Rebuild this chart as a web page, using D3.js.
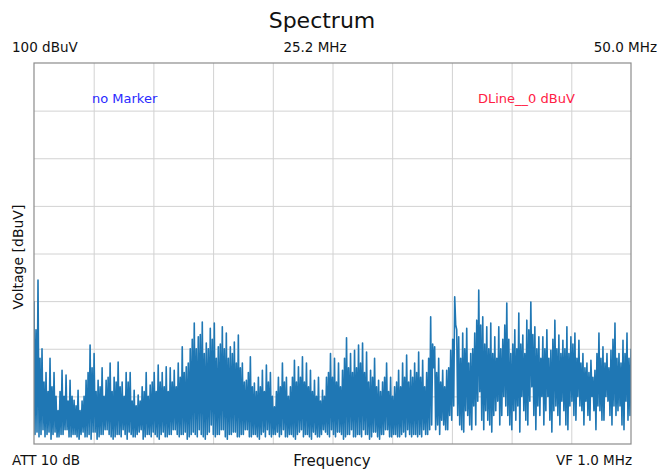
<!DOCTYPE html>
<html>
<head>
<meta charset="utf-8">
<script src="https://cdn.jsdelivr.net/npm/d3@7"></script>
<style>
  html, body { margin: 0; padding: 0; background: #fff; }
  text { font-family: "DejaVu Sans", sans-serif; }
</style>
</head>
<body>
<div id="chart"></div>
<script>
// sweep settings
const freqStart = 0.4;   // MHz
const freqStop = 50.0;   // MHz
const levelMin = 20;     // dBuV
const levelMax = 100;    // dBuV
const freqDivisions = 10;
const levelDivisions = 8;

// corner labels
const refLevelLabel = '100 dBuV';
const centerFreqLabel = '25.2 MHz';
const stopFreqLabel = '50.0 MHz';
const attLabel = 'ATT 10 dB';
const vfLabel = 'VF 1.0 MHz';
const markerLabel = 'no Marker';
const dlineLabel = 'DLine__0 dBuV';

// peak level of each sweep bin (dBuV)
const peakLevels = [
  50, 44, 54.4, 38, 40, 33, 35, 31, 38, 32,
  35, 30, 27, 31, 35.5, 30, 34.5, 29, 33.4, 30,
  29.2, 28, 31.3, 27, 29, 30, 33.4, 35, 40.8, 36,
  39, 31, 33.4, 32, 36, 30, 33.4, 34, 37, 31,
  34, 33, 37.2, 32, 33, 30, 35, 33, 35, 29,
  31.3, 28, 30.3, 29, 32, 31, 35, 30, 32.4, 33,
  35, 31, 36.6, 33, 35, 32, 36.2, 31, 36, 33,
  35.5, 32, 37, 34, 40.4, 35, 36.2, 37, 40, 42,
  45.4, 40, 42.5, 43, 45.6, 39, 41.2, 40, 44.3, 42,
  45.4, 38, 40.4, 41, 44.6, 40, 43.3, 38, 40.4, 39,
  41.4, 37, 42.9, 36, 37, 33, 33.4, 35, 38.3, 32,
  32.8, 31, 34, 32, 35.5, 31, 36.6, 33, 35, 30,
  27.8, 31, 34, 32, 37, 33, 34, 30, 32, 34,
  37.6, 33, 36.2, 34, 38.3, 33, 37, 32, 35.5, 31,
  33.4, 30, 34, 29, 31.3, 30, 34, 35, 39, 34,
  38, 33, 37, 32, 35.5, 38, 42.3, 36, 39, 35,
  39.7, 36, 40.8, 37, 41.2, 35, 39.3, 33, 35.5, 34,
  38, 32, 33.4, 31, 33, 34, 37, 31, 34, 30,
  32, 33, 35.5, 32, 37, 34, 38.7, 33, 35.5, 34,
  37, 35, 39.3, 34, 37.6, 32, 35, 38, 46.7, 41,
  40.4, 35, 38, 33, 35.5, 32, 35.5, 36, 39.7, 42,
  50.9, 44, 42.5, 38, 43.3, 40, 44.3, 37, 39, 40,
  43.3, 46, 52.3, 45, 46.7, 41, 44.6, 40, 45.4, 39,
  42.5, 38, 44.6, 40, 42, 45, 49.6, 42, 39, 41,
  44, 40, 47.5, 41, 42.9, 39, 46, 44, 49.8, 43,
  44.6, 40, 42.5, 38, 42.5, 40, 44, 38, 39.7, 42,
  46, 40, 42.9, 39, 41.8, 40, 44.6, 39, 42.5, 41,
  43.3, 38, 41.8, 37, 39, 36, 37, 35, 37.6, 34,
  35.5, 39, 43.3, 38, 40.4, 37, 39, 36, 39.7, 42,
  45.4, 38, 39, 37, 41.8, 39, 43.3, 38, 40
];

// floor level of each sweep bin (dBuV)
const floorLevels = [
  22, 22.5, 21.5, 22, 23, 21.5, 22, 22.5, 21, 22,
  22.5, 21.5, 21.5, 22, 22, 23, 23, 21.5, 21.5, 22,
  22, 21.5, 21, 22, 22.5, 21.5, 21.5, 22, 21, 22.5,
  22.5, 21, 21.5, 22, 22, 23, 23, 22, 21.5, 21,
  21.5, 22, 22, 21.5, 23, 22, 21, 22.5, 22, 21.5,
  21.5, 22, 22.5, 23, 21, 21.5, 22, 22, 21.5, 22.5,
  22, 21.5, 21, 22, 22.5, 21.5, 21.5, 22, 22, 23,
  23, 22, 21.5, 22, 22, 22.5, 21, 21.5, 22, 22.5,
  22, 21.5, 23, 22, 21.5, 21, 22, 22.5, 24, 22,
  21.5, 22, 22, 23, 23, 21.5, 21, 22, 22, 22.5,
  22.5, 21.5, 21.5, 22, 22, 23, 23, 21.5, 21.5, 22,
  22, 21.5, 21, 22, 22.5, 21.5, 23, 22, 21.5, 22,
  22, 22.5, 21.5, 22, 23, 21.5, 21.5, 22, 22, 21.5,
  21, 22, 22.5, 23, 21.5, 22, 22, 21.5, 21, 22.5,
  22, 21.5, 21.5, 22, 23, 22.5, 22, 21.5, 23, 22,
  21.5, 22.5, 22.5, 22, 21, 21.5, 22, 22, 23, 21.5,
  21.5, 22, 22, 21.5, 23, 22, 22, 21, 21.5, 22.5,
  22.5, 21.5, 21, 22, 22, 23, 23, 21.5, 21.5, 22,
  22, 21.5, 21.5, 22, 22.5, 21.5, 23, 22, 21.5, 22,
  22, 21.5, 22, 21.5, 23, 22, 22, 23, 24, 36,
  23, 24, 22, 25, 24, 23, 23, 26, 25, 28,
  45, 26, 24, 23, 22.5, 27, 26, 24, 23, 28,
  24, 29, 31, 25, 23, 27, 25, 24, 22.5, 26,
  27, 29, 24, 26, 30, 28, 26, 24, 23, 27,
  25, 28, 22.5, 30, 27, 25, 24, 29, 32, 26,
  23, 28, 26, 30, 24, 27, 30, 25, 22.5, 27,
  28, 26, 24, 29, 27, 24, 23, 28, 29, 26,
  25, 30, 28, 27, 24, 29, 26, 25, 30, 27,
  23, 28, 27, 25, 25, 30, 29, 26, 24, 28,
  26, 27, 28, 24, 23, 29, 25, 26, 27
];

const width = 661;
const height = 469;
const margin = { top: 63, right: 30, bottom: 25, left: 34 };
const w = width - margin.left - margin.right;
const h = height - margin.top - margin.bottom;

const svg = d3.select('#chart')
  .append('svg')
  .attr('width', width)
  .attr('height', height);

const g = svg.append('g')
  .attr('transform', `translate(${margin.left},${margin.top})`);

const x = d3.scaleLinear().domain([freqStart, freqStop]).range([0, w]);
const y = d3.scaleLinear().domain([levelMin, levelMax]).range([h, 0]);

// grid
const freqStep = (freqStop - freqStart) / freqDivisions;
const levelStep = (levelMax - levelMin) / levelDivisions;
const xGrid = d3.range(1, freqDivisions).map(k => freqStart + k * freqStep);
const yGrid = d3.range(1, levelDivisions).map(k => levelMin + k * levelStep);

g.append('g')
  .call(d3.axisBottom(x).tickValues(xGrid).tickSize(h).tickFormat(''))
  .call(a => a.select('.domain').remove())
  .selectAll('line')
  .attr('stroke', '#d2d2d2');

g.append('g')
  .call(d3.axisLeft(y).tickValues(yGrid).tickSize(-w).tickFormat(''))
  .call(a => a.select('.domain').remove())
  .selectAll('line')
  .attr('stroke', '#d2d2d2');

// trace: each bin drawn from its peak down to its floor
const n = peakLevels.length;
const binWidth = (freqStop - freqStart) / (n - 1);
const trace = [];
peakLevels.forEach((p, i) => {
  const f = freqStart + i * binWidth;
  trace.push([x(f), y(p)]);
  if (i < n - 1) trace.push([x(f + binWidth / 2), y(floorLevels[i])]);
});

g.append('clipPath')
  .attr('id', 'plot-clip')
  .append('rect')
  .attr('width', w)
  .attr('height', h);

g.append('path')
  .datum(trace)
  .attr('clip-path', 'url(#plot-clip)')
  .attr('fill', 'none')
  .attr('stroke', '#1f77b4')
  .attr('stroke-width', 1.6)
  .attr('stroke-linejoin', 'round')
  .attr('d', d3.line());

// frame
g.append('rect')
  .attr('width', w)
  .attr('height', h)
  .attr('fill', 'none')
  .attr('stroke', '#8c8c8c')
  .attr('stroke-width', 1.2);

// in-plot annotations
g.append('text')
  .attr('x', 58)
  .attr('y', 40)
  .attr('fill', '#2a2aff')
  .attr('font-size', 13)
  .text(markerLabel);

g.append('text')
  .attr('x', 444)
  .attr('y', 40)
  .attr('fill', '#ff2044')
  .attr('font-size', 13)
  .text(dlineLabel);

// title and corner labels
svg.append('text')
  .attr('x', 322)
  .attr('y', 28)
  .attr('text-anchor', 'middle')
  .attr('font-size', 22)
  .attr('fill', '#111')
  .text('Spectrum');

svg.append('text')
  .attr('x', 12).attr('y', 52)
  .attr('font-size', 13.5).attr('fill', '#111')
  .text(refLevelLabel);

svg.append('text')
  .attr('x', 315).attr('y', 52)
  .attr('text-anchor', 'middle')
  .attr('font-size', 13.5).attr('fill', '#111')
  .text(centerFreqLabel);

svg.append('text')
  .attr('x', 657).attr('y', 52)
  .attr('text-anchor', 'end')
  .attr('font-size', 13.5).attr('fill', '#111')
  .text(stopFreqLabel);

svg.append('text')
  .attr('x', 12).attr('y', 465)
  .attr('font-size', 13.5).attr('fill', '#111')
  .text(attLabel);

svg.append('text')
  .attr('x', 332).attr('y', 466)
  .attr('text-anchor', 'middle')
  .attr('font-size', 15).attr('fill', '#111')
  .text('Frequency');

svg.append('text')
  .attr('x', 632).attr('y', 465)
  .attr('text-anchor', 'end')
  .attr('font-size', 13.5).attr('fill', '#111')
  .text(vfLabel);

svg.append('text')
  .attr('transform', 'translate(23,257) rotate(-90)')
  .attr('text-anchor', 'middle')
  .attr('font-size', 14).attr('fill', '#111')
  .text('Voltage [dBuV]');
</script>
</body>
</html>
